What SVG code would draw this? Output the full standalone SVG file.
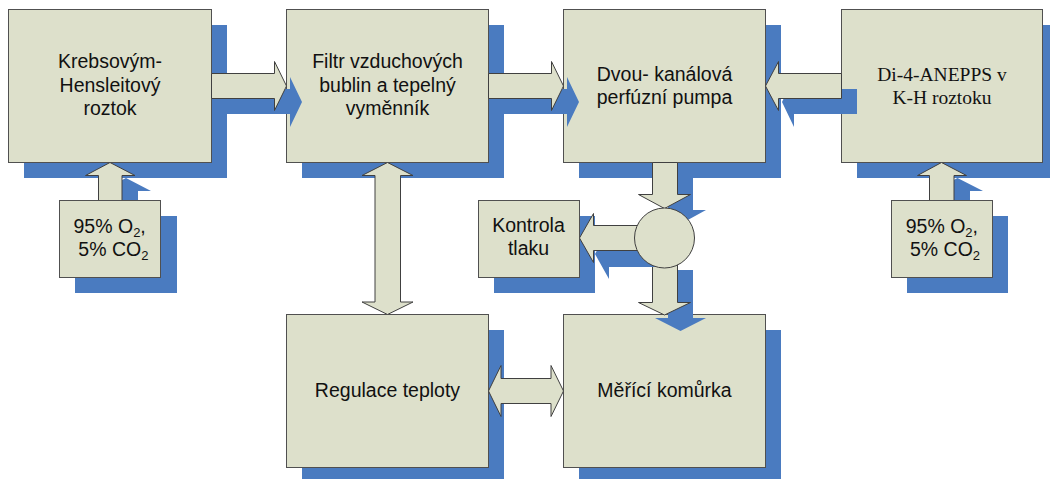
<svg xmlns="http://www.w3.org/2000/svg" width="1050" height="479" viewBox="0 0 1050 479">
<style>
.sh{fill:#4a7bc0;stroke:none}
.bx{fill:#dde0cb;stroke:#505050;stroke-width:1}
.ar{fill:#dde0cb;stroke:#404040;stroke-width:1;stroke-linejoin:miter}
.t{font-family:"Liberation Sans",Arial,sans-serif;font-size:19.5px;fill:#111;text-anchor:middle}
.ts{font-family:"Liberation Serif","Times New Roman",serif;font-size:19.5px;fill:#111;text-anchor:middle}
.tl{font-family:"Liberation Sans",Arial,sans-serif;font-size:19.5px;fill:#111}
</style>
<rect width="1050" height="479" fill="#ffffff"/>

<g id="node-krebs">
<rect class="sh" x="24" y="25" width="203" height="153"/>
<rect class="bx" x="8.5" y="9.5" width="203" height="153"/>
<text class="t" x="110" y="67.7">Krebsovým-</text>
<text class="t" x="110" y="91.5">Hensleitový</text>
<text class="t" x="110" y="115.2">roztok</text>
</g>

<g id="node-filtr">
<rect class="sh" x="302" y="25" width="202" height="153"/>
<rect class="bx" x="286.5" y="9.5" width="202" height="153"/>
<text class="t" x="387.5" y="67.7">Filtr vzduchových</text>
<text class="t" x="387.5" y="91.5">bublin a tepelný</text>
<text class="t" x="387.5" y="115.2">vyměnník</text>
</g>

<g id="node-pumpa">
<rect class="sh" x="579" y="25" width="202" height="153"/>
<rect class="bx" x="563.5" y="9.5" width="202" height="153"/>
<text class="t" x="664.5" y="80.7">Dvou- kanálová</text>
<text class="t" x="664.5" y="104">perfúzní pumpa</text>
</g>

<g id="node-anepps">
<rect class="sh" x="857" y="25" width="202" height="153"/>
<rect class="bx" x="841.5" y="9.5" width="201" height="153"/>
<text class="ts" x="942" y="80.5">Di-4-ANEPPS v</text>
<text class="ts" x="942" y="103.5">K-H roztoku</text>
</g>

<g id="node-regulace">
<rect class="sh" x="302" y="330" width="202" height="153"/>
<rect class="bx" x="286.5" y="314.5" width="202" height="153"/>
<text class="t" x="387.5" y="396.7">Regulace teploty</text>
</g>

<g id="node-komurka">
<rect class="sh" x="579" y="330" width="202" height="153"/>
<rect class="bx" x="563.5" y="314.5" width="202" height="153"/>
<text class="t" x="664.5" y="396.7">Měřící komůrka</text>
</g>

<g id="node-kontrola">
<rect class="sh" x="494" y="216" width="101" height="77"/>
<rect class="bx" x="478.5" y="200.5" width="101" height="77"/>
<text class="t" x="528.5" y="231.7">Kontrola</text>
<text class="t" x="528.5" y="255.2">tlaku</text>
</g>

<g id="connectors">
<!-- Krebs -> Filtr -->
<polygon class="sh" points="227,89 290,89 290,77 302,102 290,127 290,114 227,114"/>
<polygon class="ar" points="211.5,73.5 274.5,73.5 274.5,61.5 286.5,86 274.5,110.5 274.5,98.5 211.5,98.5"/>
<!-- Filtr -> Pumpa -->
<polygon class="sh" points="504,89 567,89 567,77 579,102 567,127 567,114 504,114"/>
<polygon class="ar" points="488.5,73.5 551.5,73.5 551.5,61.5 563.5,86 551.5,110.5 551.5,98.5 488.5,98.5"/>
<!-- ANEPPS -> Pumpa -->
<polygon class="sh" points="857,89 794,89 794,77 782,102 794,127 794,114 857,114"/>
<polygon class="ar" points="841.5,73.5 778.5,73.5 778.5,61.5 765.5,86 778.5,110.5 778.5,98.5 841.5,98.5"/>
<!-- Pumpa -> valve -->
<polygon class="sh" points="668,178 693,178 693,210 706,210 680.5,224 655,210 668,210"/>
<polygon class="ar" points="652.5,162.5 677.5,162.5 677.5,194.5 690.5,194.5 664.5,208.5 638.5,194.5 652.5,194.5"/>
<!-- valve -> komurka -->
<polygon class="sh" points="668,270 693,270 693,318 706,318 680.5,331 655,318 668,318"/>
<polygon class="ar" points="652.5,255 677.5,255 677.5,302.5 690.5,302.5 664.5,315 638.5,302.5 652.5,302.5"/>
<!-- valve -> kontrola -->
<polygon class="sh" points="656,241 609,241 609,229 595,254 609,279 609,267 656,267"/>
<polygon class="ar" points="645,225.5 593.5,225.5 593.5,213.5 579.5,238 593.5,262.5 593.5,250.5 645,250.5"/>
<!-- valve -->
<circle id="valve" class="ar" cx="664.5" cy="238" r="30"/>
<!-- O2 left -> Krebs -->
<polygon class="sh" points="114,216 114,191 101,191 126,178 151,191 138,191 138,216"/>
<polygon class="ar" points="98.5,200.5 98.5,175.5 85.5,175.5 110,162.5 135,175.5 122,175.5 122,200.5"/>
<!-- O2 right -> ANEPPS -->
<polygon class="sh" points="945,216 945,191 933,191 957.5,178 983,191 970,191 970,216"/>
<polygon class="ar" points="929.5,200.5 929.5,175.5 917.5,175.5 941.5,162.5 966.5,175.5 954,175.5 954,200.5"/>
<!-- Filtr <-> Regulace -->
<polygon class="ar" points="387.5,162.5 413,175.5 400.5,175.5 400.5,302 413,302 387.5,314.5 362,302 375,302 375,175.5 362,175.5"/>
<!-- Regulace <-> Komurka -->
<polygon class="ar" points="488.5,391 501,365.5 501,378.5 551,378.5 551,365.5 563.5,391 551,416.5 551,403.5 501,403.5 501,416.5"/>
</g>

<g id="node-o2-left">
<rect class="sh" x="75" y="216" width="102" height="77"/>
<rect class="bx" x="59.5" y="200.5" width="101" height="77"/>
<text class="tl" x="73.5" y="232.7">95% O<tspan font-size="13" dy="4">2</tspan><tspan dy="-4">,</tspan></text>
<text class="tl" x="78.3" y="256.2">5% CO<tspan font-size="13" dy="4">2</tspan></text>
</g>

<g id="node-o2-right">
<rect class="sh" x="907" y="216" width="101" height="77"/>
<rect class="bx" x="891.5" y="200.5" width="101" height="77"/>
<text class="tl" x="905.7" y="232.7">95% O<tspan font-size="13" dy="4">2</tspan><tspan dy="-4">,</tspan></text>
<text class="tl" x="910" y="256.2">5% CO<tspan font-size="13" dy="4">2</tspan></text>
</g>
</svg>
